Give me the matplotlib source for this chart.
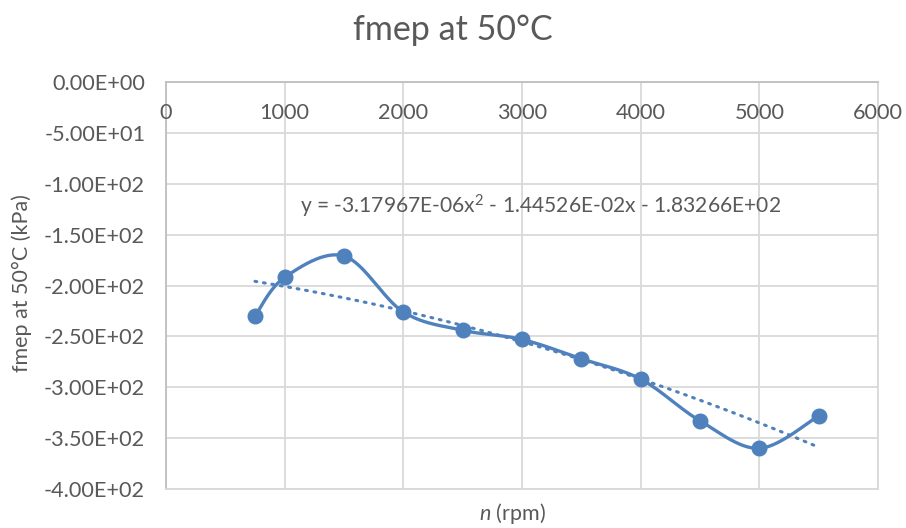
import numpy as np
import matplotlib

matplotlib.use("Agg")
import matplotlib.pyplot as plt
from matplotlib.transforms import offset_copy

plt.rcParams.update({
    "font.family": ["Lato", "DejaVu Sans"],
    "mathtext.fontset": "custom",
    "mathtext.rm": "Lato",
    "mathtext.it": "Lato:italic",
})

# Measured fmep at 50 °C against engine speed.
speed_rpm = [750, 1000, 1500, 2000, 2500, 3000, 3500, 4000, 4500, 5000, 5500]
fmep_kpa = [-230, -192, -171, -226, -244, -253, -272, -292, -333, -360, -328]

# Second order polynomial trendline coefficients (a x^2 + b x + c).
trend_coef = [-3.17967e-06, -1.44526e-02, -1.83266e02]

x_ticks = [0, 1000, 2000, 3000, 4000, 5000, 6000]
y_ticks = [0, -50, -100, -150, -200, -250, -300, -350, -400]

BLUE = "#4f81bd"
GRID = "#d9d9d9"
TEXT = "#595959"


def smooth_curve(xs, ys, n=40):
    # Bezier smoothing through every point, control points from the neighbours.
    pts = np.column_stack([xs, ys]).astype(float)
    padded = np.vstack([pts[0], pts, pts[-1]])
    out = []
    t = np.linspace(0, 1, n)[:, None]
    for i in range(len(pts) - 1):
        p0, p3 = pts[i], pts[i + 1]
        c1 = p0 + (padded[i + 2] - padded[i]) / 6
        c2 = p3 - (padded[i + 3] - padded[i + 1]) / 6
        seg = ((1 - t) ** 3) * p0 + 3 * ((1 - t) ** 2) * t * c1 + 3 * (1 - t) * t ** 2 * c2 + t ** 3 * p3
        out.append(seg if i == 0 else seg[1:])
    curve = np.vstack(out)
    return curve[:, 0], curve[:, 1]


fig = plt.figure(figsize=(9.06, 5.28), dpi=100)
W, H = 906, 528
ax = fig.add_axes([166 / W, 1 - 489 / H, (878 - 166) / W, (489 - 82) / H])

ax.set_xlim(0, 6000)
ax.set_ylim(-400, 0)
ax.set_xticks(x_ticks)
ax.set_yticks(y_ticks)
ax.grid(True, color=GRID, linewidth=1.3)
ax.set_axisbelow(True)
for side in ["left", "top", "right", "bottom"]:
    ax.spines[side].set_color(GRID)
    ax.spines[side].set_linewidth(1.3)
ax.spines["left"].set_color("#bfbfbf")
ax.spines["top"].set_color("#bfbfbf")
ax.tick_params(length=0, colors=TEXT, labelsize=15.6)
ax.set_xticklabels([])
ax.set_yticklabels([f"{v:.2E}" for v in y_ticks])
ax.tick_params(axis="y", pad=15)

# x labels sit just under the zero line
below = offset_copy(ax.transData, fig=fig, x=0, y=-22, units="points")
for xv in x_ticks:
    ax.text(xv, 0, str(xv), transform=below, ha="center", va="center",
            fontsize=15.6, color=TEXT)

sx, sy = smooth_curve(speed_rpm, fmep_kpa)
ax.plot(sx, sy, color=BLUE, linewidth=2.4, solid_capstyle="round", zorder=3)
ax.plot(speed_rpm, fmep_kpa, linestyle="none", marker="o", markersize=10.5,
        color=BLUE, zorder=4)

tx = np.linspace(speed_rpm[0], speed_rpm[-1], 200)
ty = np.polyval(trend_coef, tx)
ax.plot(tx, ty, color=BLUE, linewidth=2.2, linestyle=(0, (0.6, 2.2)),
        dash_capstyle="round", zorder=2)

eq = r"y = -3.17967E-06x$^{2}$ - 1.44526E-02x - 1.83266E+02"
ax.text(3160, -122, eq, ha="center", va="center", fontsize=15.1, color=TEXT)

fig.text(0.5, 1 - 30 / H, "fmep at 50°C", ha="center", va="center",
         fontsize=24.5, color=TEXT)
fig.text(22 / W, 1 - 283 / H, "fmep at 50°C (kPa)", rotation=90,
         ha="center", va="center", fontsize=15.5, color=TEXT)
fig.text(512 / W, 1 - 513 / H, r"$n$ (rpm)", ha="center", va="center",
         fontsize=15.5, color=TEXT)

fig.savefig("out.png", dpi=100)
